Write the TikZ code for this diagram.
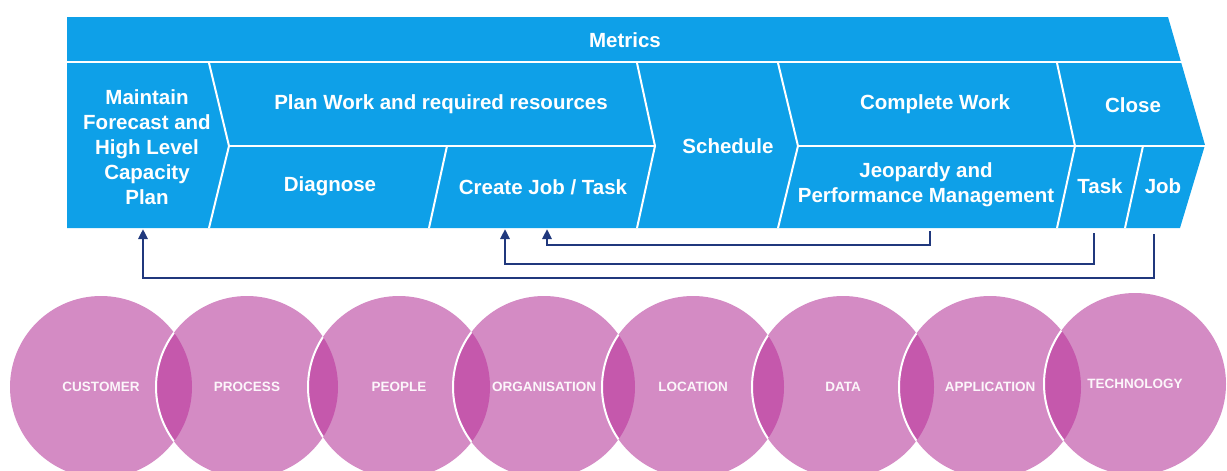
\documentclass[tikz,border=0pt]{standalone}
\usepackage{fontspec}
\setmainfont{Liberation Sans}
\usetikzlibrary{arrows.meta}

\definecolor{bandblue}{RGB}{14,160,232}
\definecolor{ringpink}{RGB}{212,139,196}
\definecolor{lenspink}{RGB}{197,88,172}
\definecolor{feednavy}{RGB}{32,56,125}

\begin{document}
\begin{tikzpicture}[x=1pt,y=-1pt]

  \useasboundingbox (0,0) rectangle (1227,471);

  % node styles
  \tikzstyle{Stage}=[
  text=white,
  font=\fontsize{20.5}{25}\selectfont\bfseries,
  align=center,
  inner sep=0pt]

  \tikzstyle{Ring}=[circle,fill=ringpink,minimum size=182pt,inner sep=0pt,
  text=white!92!ringpink,font=\fontsize{13.5}{15}\selectfont\bfseries]

  \tikzstyle{Cut}=[white,line width=2pt]
  \tikzstyle{Feed}=[feednavy,line width=2.8pt,-{Triangle[length=10pt,width=9pt]}]

  % the chevron band
  \fill[bandblue] (67,17) -- (1168,17) -- (1205,145) -- (1180,228) -- (67,228) -- cycle;
  \draw[Cut] (60,62) -- (1200,62);
  \draw[Cut] (229,146) -- (655,146);
  \draw[Cut] (798,146) -- (1210,146);
  \draw[Cut] (209,63) -- (229,146) -- (209,228);
  \draw[Cut] (637,63) -- (655,146) -- (637,228);
  \draw[Cut] (778,63) -- (798,146) -- (778,228);
  \draw[Cut] (1057,63) -- (1075,146) -- (1057,228);
  \draw[Cut] (447,146) -- (429,228);
  \draw[Cut] (1143,146) -- (1125,228);

  \node[Stage] (metrics)   at (625,40)  {Metrics};
  \node[Stage] (maintain)  at (147,147) {Maintain\\Forecast and\\High Level\\Capacity\\Plan};
  \node[Stage] (planwork)  at (441,104) {Plan Work and required resources};
  \node[Stage] (diagnose)  at (330,186) {Diagnose};
  \node[Stage] (createjob) at (543,187) {Create Job / Task};
  \node[Stage] (schedule)  at (728,146) {Schedule};
  \node[Stage] (complete)  at (935,104) {Complete Work};
  \node[Stage] (jeopardy)  at (926,185) {Jeopardy and\\Performance Management};
  \node[Stage] (close)     at (1133,105) {Close};
  \node[Stage] (task)      at (1100,186) {Task};
  \node[Stage] (job)       at (1163,186) {Job};

  % feedback loops
  \coordinate (jobFoot)    at (1154,234);
  \coordinate (taskFoot)   at (1094,233);
  \coordinate (jeopFoot)   at (930,231);
  \coordinate (planFoot)   at (143,229);
  \coordinate (createFoot) at (505,229);
  \coordinate (taskBack)   at (547,229);

  \draw[Feed] (jobFoot) -- ++(0,44) -| (planFoot);
  \draw[Feed] (taskFoot) -- ++(0,31) -| (createFoot);
  \draw[Feed] (jeopFoot) -- ++(0,14) -| (taskBack);

  % architecture domains
  \foreach \nm/\cx/\cy/\txt in {cust/101/387/CUSTOMER, proc/247/387/PROCESS,
    peop/399/387/PEOPLE, orga/544/387/ORGANISATION, loca/693/387/LOCATION,
    data/843/387/DATA, appl/990/387/APPLICATION, tech/1135/384/TECHNOLOGY}
    \node[Ring] (\nm) at (\cx,\cy) {\txt};

  \foreach \a/\b in {cust/proc, proc/peop, peop/orga, orga/loca,
    loca/data, data/appl, appl/tech}
  {
    \begin{scope}
      \clip (\a) circle [radius=91];
      \fill[lenspink] (\b) circle [radius=91];
      \draw[white,line width=2pt] (\b) circle [radius=91];
    \end{scope}
  }

\end{tikzpicture}
\end{document}
